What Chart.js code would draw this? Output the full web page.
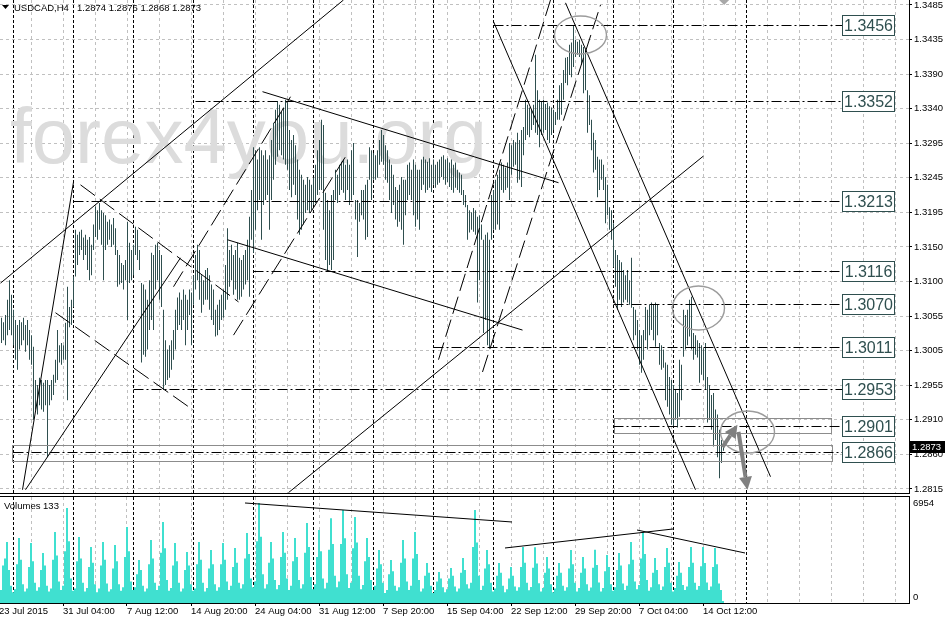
<!DOCTYPE html>
<html><head><meta charset="utf-8">
<script src="https://cdn.jsdelivr.net/npm/chart.js@4.4.1/dist/chart.umd.min.js"></script>
<style>
html,body{margin:0;padding:0;background:#fff;}
#wrap{position:relative;width:945px;height:621px;overflow:hidden;background:#fff;}
#pc{position:absolute;left:0;top:0;}
#vc{position:absolute;left:0;top:496px;}
</style></head><body>
<div id="wrap"><canvas id="pc" width="945" height="496"></canvas><canvas id="vc" width="945" height="125"></canvas></div>
<script>
// ---------- data ----------
const symbolTitle = "USDCAD,H4";
const headerOHLC = ["1.2874","1.2876","1.2868","1.2873"];
const lastPrice = 1.2873;
const lastPriceLabel = "1.2873";
const watermark = "forex4you.org";
const volumeTitle = "Volumes 133";

const highs = [
1.3052,1.3046,1.3056,1.3077,1.3104,1.3084,1.3063,1.3049,1.3042,1.3049,
1.3046,1.3052,1.3042,1.3049,1.3035,1.3028,1.3012,1.2966,1.2959,1.2969,
1.2966,1.2962,1.2966,1.2966,1.2959,1.2966,1.2973,1.2994,1.3035,1.3014,
1.3017,1.3014,1.3045,1.3095,1.3067,1.3077,1.3109,1.3174,1.3167,1.3171,
1.3174,1.3163,1.3167,1.3160,1.3164,1.3153,1.3181,1.3206,1.3201,1.3211,
1.3201,1.3197,1.3194,1.3185,1.3188,1.3181,1.3190,1.3176,1.3146,1.3139,
1.3128,1.3125,1.3132,1.3185,1.3156,1.3146,1.3153,1.3178,1.3174,1.3146,
1.3100,1.3098,1.3091,1.3077,1.3104,1.3142,1.3139,1.3153,1.3156,1.3146,
1.3139,1.3063,1.3021,1.3008,1.3014,1.3021,1.3035,1.3063,1.3080,1.3087,
1.3077,1.3091,1.3084,1.3077,1.3091,1.3087,1.3111,1.3139,1.3153,1.3146,
1.3111,1.3104,1.3118,1.3121,1.3111,1.3098,1.3091,1.3063,1.3070,1.3077,
1.3084,1.3091,1.3125,1.3176,1.3146,1.3153,1.3139,1.3146,1.3156,1.3135,
1.3132,1.3139,1.3146,1.3160,1.3192,1.3229,1.3288,1.3284,1.3271,1.3288,
1.3284,1.3277,1.3284,1.3271,1.3277,1.3298,1.3322,1.3340,1.3352,1.3347,
1.3337,1.3343,1.3354,1.3350,1.3312,1.3298,1.3305,1.3291,1.3271,1.3257,
1.3250,1.3243,1.3236,1.3247,1.3243,1.3236,1.3246,1.3264,1.3284,1.3298,
1.3326,1.3319,1.3225,1.3215,1.3201,1.3222,1.3229,1.3257,1.3250,1.3264,
1.3268,1.3271,1.3264,1.3271,1.3264,1.3284,1.3294,1.3215,1.3215,1.3211,
1.3229,1.3229,1.3236,1.3243,1.3288,1.3284,1.3280,1.3277,1.3284,1.3298,
1.3312,1.3305,1.3291,1.3284,1.3271,1.3264,1.3250,1.3233,1.3229,1.3236,
1.3247,1.3243,1.3243,1.3264,1.3267,1.3257,1.3271,1.3264,1.3257,1.3257,
1.3271,1.3275,1.3271,1.3268,1.3273,1.3264,1.3271,1.3264,1.3268,1.3271,
1.3275,1.3277,1.3271,1.3273,1.3267,1.3271,1.3264,1.3267,1.3257,1.3253,
1.3250,1.3229,1.3222,1.3208,1.3201,1.3198,1.3204,1.3201,1.3192,1.3194,
1.3181,1.3160,1.3167,1.3170,1.3160,1.3222,1.3229,1.3243,1.3250,1.3257,
1.3267,1.3264,1.3260,1.3267,1.3294,1.3291,1.3298,1.3295,1.3308,1.3298,
1.3312,1.3316,1.3354,1.3347,1.3343,1.3340,1.3347,1.3416,1.3367,1.3354,
1.3351,1.3354,1.3348,1.3350,1.3345,1.3343,1.3340,1.3337,1.3354,1.3374,
1.3377,1.3395,1.3412,1.3413,1.3430,1.3433,1.3457,1.3437,1.3434,1.3437,
1.3430,1.3427,1.3423,1.3367,1.3360,1.3326,1.3308,1.3298,1.3275,1.3271,
1.3271,1.3264,1.3247,1.3236,1.3205,1.3201,1.3183,1.3146,1.3139,1.3132,
1.3129,1.3118,1.3111,1.3118,1.3104,1.3135,1.3067,1.3063,1.3049,1.3035,
1.3028,1.3035,1.3067,1.3063,1.3070,1.3073,1.3070,1.3073,1.3070,1.3017,
1.3014,1.3008,1.2990,1.2987,1.2970,1.2966,1.2959,1.2952,1.2948,1.2994,
1.2987,1.3063,1.3056,1.3063,1.3077,1.3081,1.3031,1.3028,1.3021,1.3017,
1.3014,1.3010,1.3017,1.2970,1.2959,1.2945,1.2948,1.2925,1.2918,1.2897,
1.2883,1.2876];

const lows = [
1.3017,1.3021,1.3014,1.3028,1.3035,1.3028,1.3014,1.2994,1.2980,1.3008,
1.3014,1.3021,1.3005,1.3014,1.2994,1.2987,1.2911,1.2925,1.2918,1.2931,
1.2925,1.2922,1.2931,1.2859,1.2931,1.2938,1.2945,1.2962,1.2966,1.2990,
1.2987,1.2994,1.2994,1.2938,1.3039,1.3042,1.3067,1.3109,1.3125,1.3139,
1.3146,1.3132,1.3139,1.3118,1.3104,1.3111,1.3146,1.3164,1.3160,1.3174,
1.3153,1.3104,1.3146,1.3153,1.3160,1.3150,1.3153,1.3139,1.3095,1.3098,
1.3100,1.3091,1.3104,1.3049,1.3100,1.3104,1.3111,1.3139,1.3132,1.3118,
1.2990,1.3001,1.2998,1.3008,1.3035,1.3049,1.3035,1.3091,1.3104,1.3077,
1.3067,1.2952,1.2959,1.2966,1.2969,1.2980,1.2994,1.3008,1.3035,1.3042,
1.3035,1.3049,1.3014,1.3035,1.3056,1.3014,1.3070,1.3091,1.3104,1.3077,
1.3059,1.3070,1.3077,1.3077,1.3063,1.3049,1.3042,1.3026,1.3028,1.3035,
1.3049,1.3052,1.3063,1.3077,1.3095,1.3104,1.3084,1.3091,1.3077,1.3077,
1.3081,1.3091,1.3098,1.3104,1.3081,1.3160,1.3142,1.3174,1.3201,1.3215,
1.3160,1.3208,1.3215,1.3222,1.3174,1.3215,1.3243,1.3264,1.3275,1.3284,
1.3277,1.3271,1.3264,1.3257,1.3229,1.3219,1.3236,1.3222,1.3188,1.3167,
1.3174,1.3181,1.3197,1.3201,1.3197,1.3201,1.3208,1.3211,1.3222,1.3229,
1.3229,1.3174,1.3132,1.3116,1.3125,1.3118,1.3132,1.3215,1.3211,1.3222,
1.3229,1.3225,1.3215,1.3229,1.3208,1.3215,1.3222,1.3188,1.3136,1.3185,
1.3194,1.3188,1.3160,1.3164,1.3243,1.3215,1.3243,1.3243,1.3246,1.3264,
1.3268,1.3264,1.3243,1.3239,1.3215,1.3197,1.3208,1.3188,1.3178,1.3185,
1.3174,1.3153,1.3194,1.3215,1.3222,1.3215,1.3194,1.3178,1.3188,1.3174,
1.3229,1.3236,1.3225,1.3229,1.3232,1.3226,1.3236,1.3232,1.3236,1.3239,
1.3247,1.3243,1.3236,1.3240,1.3233,1.3229,1.3225,1.3232,1.3229,1.3225,
1.3222,1.3208,1.3205,1.3160,1.3170,1.3174,1.3171,1.3167,1.3073,1.3104,
1.3160,1.3031,1.3049,1.3014,1.3010,1.3160,1.3174,1.3174,1.3181,1.3174,
1.3229,1.3225,1.3229,1.3232,1.3215,1.3250,1.3261,1.3264,1.3239,1.3243,
1.3233,1.3277,1.3298,1.3305,1.3302,1.3312,1.3319,1.3308,1.3305,1.3288,
1.3305,1.3308,1.3312,1.3298,1.3294,1.3305,1.3312,1.3319,1.3326,1.3326,
1.3333,1.3354,1.3377,1.3374,1.3388,1.3385,1.3399,1.3413,1.3416,1.3413,
1.3402,1.3363,1.3367,1.3308,1.3319,1.3284,1.3253,1.3257,1.3219,1.3229,
1.3243,1.3229,1.3183,1.3194,1.3174,1.3160,1.3122,1.3095,1.3063,1.3077,
1.3067,1.3073,1.3077,1.3073,1.3070,1.3066,1.3021,1.3028,1.3008,1.2987,
1.2976,1.2994,1.3021,1.3008,1.3028,1.3035,1.3021,1.3012,1.3028,1.2987,
1.2980,1.2983,1.2938,1.2929,1.2918,1.2904,1.2901,1.2911,1.2900,1.2915,
1.2938,1.2998,1.3008,1.3014,1.3026,1.3008,1.2994,1.3001,1.2997,1.2962,
1.2973,1.2966,1.2952,1.2907,1.2911,1.2897,1.2874,1.2883,1.2859,1.2830,
1.2851,1.2868];

const volumes = [
900,2600,3100,4240,2300,1200,
750,950,2700,4520,3000,1300,
800,1000,2500,4170,2900,1400,
850,1100,2300,3475,2600,1200,
800,1000,3000,4935,3300,1500,
900,1200,3600,6600,4300,1700,
850,1000,2900,4590,3100,1400,
800,1050,2500,3890,2800,1300,
750,1000,2600,4240,3000,1350,
800,950,2400,4030,2900,1300,
850,1100,3200,5280,3600,1500,
900,1100,2000,2990,2300,1200,
800,1000,2700,4380,3100,1400,
900,1200,3500,5630,3800,1600,
850,1050,2600,4170,2900,1400,
800,1000,2300,3545,2600,1300,
850,1000,2700,4240,3000,1400,
800,1050,2400,3680,2700,1300,
850,1100,2700,4170,3000,1500,
900,1200,2500,3820,2800,1400,
1000,1300,3100,4865,3400,1700,
1100,1500,4300,6954,4600,2000,
1000,1300,2800,4240,3100,1600,
950,1250,3200,4935,3500,1700,
900,1200,2900,4520,3200,1600,
1000,1300,3500,5560,3900,1800,
950,1300,3200,5070,3600,1700,
1000,1400,3700,5900,4100,1900,
1100,1500,4100,6460,4500,2000,
1050,1400,3800,5980,4200,1900,
950,1250,2900,4520,3200,1600,
900,1200,2400,3680,2700,1400,
700,900,2000,2990,2200,1200,
850,1100,2800,4380,3100,1500,
900,1200,3100,4935,3400,1600,
800,1000,1900,2780,2100,1200,
700,900,1500,2150,1700,1100,
750,950,1700,2430,1900,1150,
800,1000,2100,3130,2300,1300,
1000,1400,3900,6460,4200,1900,
900,1200,2400,3680,2700,1400,
800,1000,1900,2780,2100,1200,
750,950,1700,2500,1900,1150,
850,1100,2500,3890,2800,1400,
880,1120,2450,3870,2750,1380,
800,1050,2100,3200,2400,1300,
750,1000,1900,2780,2100,1200,
850,1100,2400,3680,2700,1400,
800,1050,2100,3200,2400,1300,
860,1080,2450,3700,2650,1420,
800,1050,2200,3340,2500,1300,
850,1100,2300,3475,2600,1350,
900,1200,2700,4240,3000,1500,
950,1250,3100,4935,3400,1600,
850,1100,2100,3130,2300,1300,
900,1150,2500,3820,2800,1400,
800,1050,1900,2850,2100,1250,
900,1150,2500,3890,2800,1400,
920,1180,2550,3900,2780,1420,
900,1150,2500,3820,2700,1350,
900,133];

const yTickLabels = ["1.3485","1.3435","1.3390","1.3340","1.3295","1.3245","1.3195","1.3150","1.3100","1.3055","1.3005","1.2955","1.2910","1.2860","1.2815"];
const xLabelTexts = ["23 Jul 2015","31 Jul 04:00","7 Aug 12:00","14 Aug 20:00","24 Aug 04:00","31 Aug 12:00","7 Sep 20:00","15 Sep 04:00","22 Sep 12:00","29 Sep 20:00","7 Oct 04:00","14 Oct 12:00"];
const xLabelIndex = [-1,31,63,95,127,159,191,223,255,287,319,351];
const weekSeparators = [6,36,66,96,126,156,186,216,246,276,306,336];
const volAxisMaxLabel = "6954";
const volAxisMinLabel = "0";

// drawn objects (in bar-index / price units)
const levels =      [1.3456,1.3352,1.3213,1.3116,1.3070,1.3011,1.2953,1.2901,1.2866];
const levelStarts = [246,   97,    36,    126,   306,   216,   66,    306,   6];
const levelLabelIndex = 420.5;
const trendLines = [
 {a:[-0.5,1.3100], b:[171,1.3492], dash:false},
 {a:[10.5,1.2814], b:[36,1.3240], dash:false},
 {a:[12,1.2814], b:[89.5,1.3135], dash:false},
 {a:[27,1.3059], b:[96,1.2924], dash:true},
 {a:[39.5,1.3236], b:[118.5,1.3074], dash:true},
 {a:[113,1.3160], b:[260.5,1.3035], dash:false},
 {a:[130.5,1.3365], b:[278.5,1.3239], dash:false},
 {a:[86,1.3095], b:[144.5,1.3358], dash:true},
 {a:[116,1.3028], b:[172,1.3275], dash:true},
 {a:[246,1.3462], b:[347,1.2814], dash:false},
 {a:[282,1.3488], b:[384.5,1.2832], dash:false},
 {a:[218.5,1.2994], b:[274.5,1.3492], dash:true},
 {a:[240.5,1.2977], b:[299.5,1.3485], dash:true},
 {a:[143.5,1.2810], b:[351,1.3276], dash:false}
];
const rects = [
 {a:[5.5,1.28759], b:[415.5,1.28524]},
 {a:[306.5,1.29119], b:[415,1.28925]}
];
const ellipses = [
 {c:[289.5,1.34435], rx:13, ry:0.00263},
 {c:[348.5,1.30656], rx:13, ry:0.00305},
 {c:[373,1.28939], rx:13.5, ry:0.00291}
];
const arrows = [
 {a:[360.5,1.2873], b:[368,1.2904]},
 {a:[368.5,1.2894], b:[373,1.2814]}
];
const userVLine = 372.5;
const volLines = [
 {a:[122,6954], b:[255.5,5633]},
 {a:[252,3825], b:[336,5146]},
 {a:[318,5076], b:[372,3477]}
];

// ---------- scales ----------
const priceMax = 1.349192, priceMin = 1.280946;
const volMax = 7371;
const xMin = -0.75, xMax = 453.75;
const vxMin = -0.5, vxMax = 454;
const yTickValues = yTickLabels.map((s,k)=> parseFloat(yTickLabels[0]) - k*(parseFloat(yTickLabels[0])-parseFloat(yTickLabels[yTickLabels.length-1]))/(yTickLabels.length-1));
const xGridIndex = []; for (let v=-1; v<=447; v+=16) xGridIndex.push(v);

const barColor = '#2F4F4F';
const volColor = '#40E0D0';
const gridColor = '#c0c0c0';
const FONT = '"Liberation Sans", Arial, sans-serif';
Chart.defaults.font.family = FONT;
Chart.defaults.font.size = 9.5;
Chart.defaults.color = '#000';

function seg(ctx,x1,y1,x2,y2){ctx.beginPath();ctx.moveTo(x1,y1);ctx.lineTo(x2,y2);ctx.stroke();}
function crisp(v){return Math.round(v-0.5)+0.5;}

const pricePlugin = {
  id:'priceDecor',
  beforeDatasetsDraw(chart){
    const {ctx, chartArea:ca, scales:{x}} = chart;
    ctx.save();
    ctx.beginPath(); ctx.rect(ca.left, ca.top, ca.right-ca.left, ca.bottom-ca.top); ctx.clip();
    ctx.strokeStyle='#000'; ctx.lineWidth=1; ctx.setLineDash([3,2]);
    weekSeparators.forEach(i=>{const px=crisp(x.getPixelForValue(i)); seg(ctx,px,ca.top,px,ca.bottom);});
    ctx.setLineDash([]);
    ctx.fillStyle='#dcdcdc'; ctx.font='78px '+FONT; ctx.textBaseline='alphabetic'; ctx.textAlign='left';
    ctx.fillText(watermark, 10, 163);
    ctx.restore();
  },
  afterDatasetsDraw(chart){
    const {ctx, chartArea:ca, scales:{x,y}} = chart;
    const X=v=>x.getPixelForValue(v), Y=v=>y.getPixelForValue(v);
    ctx.save();
    ctx.beginPath(); ctx.rect(ca.left, ca.top, ca.right-ca.left, ca.bottom-ca.top); ctx.clip();
    ctx.strokeStyle='#8c8c8c'; ctx.lineWidth=1;
    rects.forEach(r=>{const x1=crisp(X(r.a[0])),x2=crisp(X(r.b[0])),y1=crisp(Y(r.a[1])),y2=crisp(Y(r.b[1])); ctx.strokeRect(x1,y1,x2-x1,y2-y1);});
    const bx = crisp(X(levelLabelIndex));
    ctx.strokeStyle='#000'; ctx.lineWidth=1;
    levels.forEach((p,k)=>{
      const py=crisp(Y(p));
      ctx.setLineDash([10,3,2,3]);
      seg(ctx, X(levelStarts[k]), py, bx, py);
    });
    ctx.setLineDash([]);
    ctx.strokeStyle='#000'; ctx.lineWidth=1;
    trendLines.forEach(t=>{ctx.setLineDash(t.dash?[18,6]:[]); seg(ctx,X(t.a[0]),Y(t.a[1]),X(t.b[0]),Y(t.b[1]));});
    ctx.setLineDash([]);
    ctx.setLineDash([3,2]);
    const vx=crisp(X(userVLine)); seg(ctx,vx,ca.top,vx,ca.bottom);
    ctx.setLineDash([]);
    ctx.strokeStyle='#9c9c9c'; ctx.lineWidth=1.4;
    ellipses.forEach(e=>{
      const cx=X(e.c[0]), cy=Y(e.c[1]);
      const rx=X(e.c[0]+e.rx)-cx, ry=Y(e.c[1]-e.ry)-cy;
      ctx.beginPath(); ctx.ellipse(cx,cy,rx,ry,0,0,Math.PI*2); ctx.stroke();
    });
    ctx.strokeStyle='#808080'; ctx.fillStyle='#808080'; ctx.lineWidth=4; ctx.lineCap='butt';
    arrows.forEach(a=>{
      const x1=X(a.a[0]),y1=Y(a.a[1]),x2=X(a.b[0]),y2=Y(a.b[1]);
      const ang=Math.atan2(y2-y1,x2-x1), L=13, W=6.5;
      const hx=x2-L*Math.cos(ang), hy=y2-L*Math.sin(ang);
      seg(ctx,x1,y1,hx,hy);
      ctx.beginPath(); ctx.moveTo(x2,y2);
      ctx.lineTo(hx+W*Math.sin(ang), hy-W*Math.cos(ang));
      ctx.lineTo(hx-W*Math.sin(ang), hy+W*Math.cos(ang));
      ctx.closePath(); ctx.fill();
    });
    ctx.font='16px '+FONT; ctx.textAlign='center'; ctx.textBaseline='middle';
    levels.forEach(p=>{
      const py=crisp(Y(p));
      ctx.fillStyle='#fff'; ctx.fillRect(bx,py-10,52,20);
      ctx.strokeStyle=barColor; ctx.lineWidth=1; ctx.strokeRect(bx,py-10,52,20);
      ctx.fillStyle=barColor; ctx.fillText(p.toFixed(4), bx+26, py+1);
    });
    ctx.fillStyle='#a8a8a8';
    const tx=X(361.3);
    ctx.beginPath(); ctx.moveTo(tx-5,ca.top); ctx.lineTo(tx+5,ca.top); ctx.lineTo(tx,ca.top+5); ctx.closePath(); ctx.fill();
    ctx.restore();
  },
  afterDraw(chart){
    const {ctx, chartArea:ca, scales:{y}} = chart;
    ctx.save();
    ctx.strokeStyle='#000'; ctx.lineWidth=1;
    seg(ctx, 0, ca.bottom+0.5, ca.right+1, ca.bottom+0.5);
    seg(ctx, ca.right+0.5, 0, ca.right+0.5, ca.bottom+1);
    ctx.fillStyle='#000';
    ctx.beginPath(); ctx.moveTo(2,5); ctx.lineTo(9,5); ctx.lineTo(5.5,9); ctx.closePath(); ctx.fill();
    ctx.font='9.5px '+FONT; ctx.textAlign='left'; ctx.textBaseline='middle';
    ctx.fillText(symbolTitle, 14, 8);
    ctx.fillText(headerOHLC.join(' '), 77, 8);
    const py=Math.round(y.getPixelForValue(lastPrice));
    ctx.fillStyle='#000'; ctx.fillRect(ca.right+1, py-6, 945-ca.right-1, 12);
    ctx.fillStyle='#fff'; ctx.fillText(lastPriceLabel, ca.right+3, py);
    ctx.restore();
  }
};

const volPlugin = {
  id:'volDecor',
  beforeDatasetsDraw(chart){
    const {ctx, chartArea:ca, scales:{x}} = chart;
    ctx.save();
    ctx.strokeStyle='#000'; ctx.lineWidth=1; ctx.setLineDash([3,2]);
    weekSeparators.forEach(i=>{const px=crisp(x.getPixelForValue(i)+0.5); seg(ctx,px,ca.top,px,ca.bottom);});
    ctx.restore();
  },
  afterDatasetsDraw(chart){
    const {ctx, chartArea:ca, scales:{x,y}} = chart;
    const X=v=>x.getPixelForValue(v), Y=v=>y.getPixelForValue(v);
    ctx.save();
    ctx.strokeStyle='#000'; ctx.lineWidth=1;
    volLines.forEach(t=>seg(ctx,X(t.a[0]),Y(t.a[1]),X(t.b[0]),Y(t.b[1])));
    ctx.setLineDash([3,2]);
    const vx=crisp(X(userVLine)+0.5); seg(ctx,vx,ca.top,vx,ca.bottom);
    ctx.restore();
  },
  afterDraw(chart){
    const {ctx, chartArea:ca, scales:{y}} = chart;
    ctx.save();
    ctx.strokeStyle='#000'; ctx.lineWidth=1;
    seg(ctx, 0, ca.top-0.5, ca.right+1, ca.top-0.5);
    seg(ctx, 0, ca.bottom+0.5, ca.right+1, ca.bottom+0.5);
    seg(ctx, ca.right+0.5, ca.top-1, ca.right+0.5, ca.bottom+1);
    ctx.fillStyle='#000'; ctx.font='9.5px '+FONT; ctx.textAlign='left'; ctx.textBaseline='middle';
    ctx.fillText(volumeTitle, 4, 10);
    ctx.fillText(volAxisMaxLabel, ca.right+4, y.getPixelForValue(6954));
    ctx.fillText(volAxisMinLabel, ca.right+4, ca.bottom-6);
    ctx.restore();
  }
};

const common = {responsive:false, animation:false, devicePixelRatio:1, events:[],
  plugins:{legend:{display:false}, tooltip:{enabled:false}}};

new Chart(document.getElementById('pc'), {
  type:'bar',
  data:{datasets:[{data: highs.map((h,i)=>({x:i, y:[lows[i], h]})), backgroundColor:barColor, borderWidth:0, barThickness:1, inflateAmount:0}]},
  options:Object.assign({}, common, {
    layout:{padding:{left:0,right:0,top:0,bottom:3}},
    scales:{
      x:{type:'linear', min:xMin, max:xMax, offset:false,
         grid:{offset:false, color:gridColor, drawTicks:false, lineWidth:1},
         border:{display:false, dash:[3,3]}, ticks:{display:false},
         afterBuildTicks:s=>{s.ticks=xGridIndex.map(v=>({value:v}));},
         afterFit:s=>{s.height=0; s.paddingLeft=0; s.paddingRight=0;}},
      y:{type:'linear', position:'right', min:priceMin, max:priceMax,
         grid:{color:gridColor, drawTicks:true, tickLength:3, tickColor:'#000', lineWidth:1},
         border:{display:false, dash:[3,3]},
         ticks:{color:'#000', padding:2, autoSkip:false, font:{size:9.5}, callback:(v,idx)=>yTickLabels[idx]},
         afterBuildTicks:s=>{s.ticks=yTickValues.map(v=>({value:v}));},
         afterFit:s=>{s.width=36; s.paddingTop=0; s.paddingBottom=0;}}
    }
  }),
  plugins:[pricePlugin]
});

new Chart(document.getElementById('vc'), {
  type:'bar',
  data:{datasets:[{data: volumes.map((v,i)=>({x:i, y:v})), backgroundColor:volColor, borderWidth:0, barThickness:2, inflateAmount:0}]},
  options:Object.assign({}, common, {
    layout:{padding:{left:0,right:0,top:1,bottom:0}},
    scales:{
      x:{type:'linear', position:'bottom', min:vxMin, max:vxMax, offset:false,
         grid:{offset:false, color:gridColor, drawTicks:true, tickLength:3, lineWidth:1,
               tickColor:c=> (c.tick && xLabelIndex.indexOf(c.tick.value)>=0) ? '#000' : 'rgba(0,0,0,0)'},
         border:{display:false, dash:[3,3]},
         ticks:{display:true, autoSkip:false, maxRotation:0, minRotation:0, align:'start', padding:0, color:'#000', font:{size:9.5},
                callback:(v)=>{const k=xLabelIndex.indexOf(v); return k>=0?xLabelTexts[k]:'';}},
         afterBuildTicks:s=>{s.ticks=xGridIndex.map(v=>({value:v}));},
         afterFit:s=>{s.height=18; s.paddingLeft=0; s.paddingRight=0;}},
      y:{type:'linear', position:'right', min:0, max:volMax,
         grid:{display:false}, border:{display:false}, ticks:{display:false},
         afterFit:s=>{s.width=36; s.paddingTop=0; s.paddingBottom=0;}}
    }
  }),
  plugins:[volPlugin]
});
</script>
</body></html>
